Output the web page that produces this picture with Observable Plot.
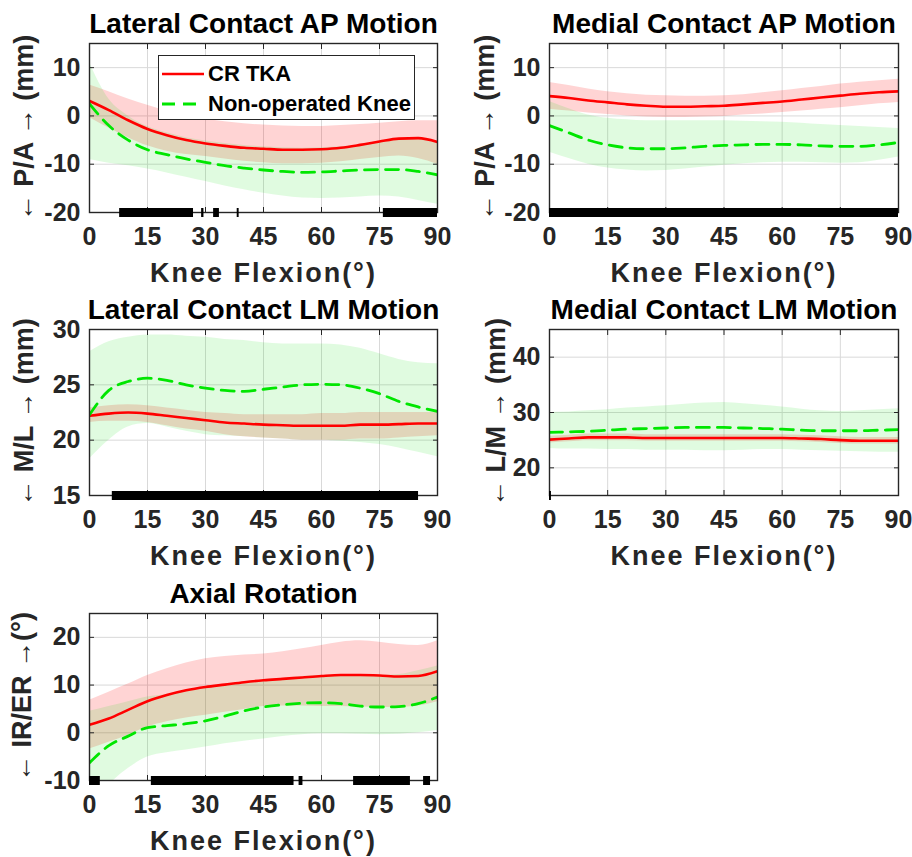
<!DOCTYPE html>
<html><head><meta charset="utf-8">
<script src="https://cdn.jsdelivr.net/npm/d3@7"></script>
<script src="https://cdn.jsdelivr.net/npm/@observablehq/plot@0.6"></script>
<style>
body{margin:0;background:#fff;}
#wrap{position:relative;width:912px;height:857px;font-family:"Liberation Sans",Arial,sans-serif;overflow:hidden;}
.panel{position:absolute;}
g[aria-description="xlabel"] text{letter-spacing:2px;}
#legend{position:absolute;left:158px;top:55px;width:257px;height:65px;border:1.4px solid #262626;background:#fff;box-sizing:border-box;}
#legend .row{position:absolute;left:0;height:26px;display:flex;align-items:center;font-weight:bold;font-size:22px;color:#000;white-space:nowrap;}
#legend svg{width:44px;height:10px;margin-right:2px;}
</style></head><body><div id="wrap"></div>
<script>
// ---------- shared ----------
const flex = [0,5,10,15,20,25,30,35,40,45,50,55,60,65,70,75,80,85,90];
const xTicks = [0,15,30,45,60,75,90];
const xLabel = "Knee Flexion(°)";
const seriesNames = ["CR TKA", "Non-operated Knee"];

// ---------- Lateral Contact AP Motion ----------
const latAP_title = "Lateral Contact AP Motion";
const latAP_ylabel = "← P/A → (mm)";
const latAP_yTicks = [-20,-10,0,10];
const latAP_yDomain = [-20,15];
const latAP_crMean = [3.1,1.2,-0.9,-2.7,-4.0,-5.0,-5.7,-6.2,-6.6,-6.8,-7.0,-7.0,-6.9,-6.6,-6.0,-5.3,-4.7,-4.6,-5.4];
const latAP_crHi   = [6.4,5.0,3.5,2.2,1.0,0.0,-0.7,-1.2,-1.6,-1.9,-2.1,-2.2,-2.2,-2.0,-1.8,-1.5,-1.2,-1.0,-1.0];
const latAP_crLo   = [-0.3,-2.5,-4.5,-6.2,-7.3,-8.0,-8.4,-8.9,-9.4,-9.7,-9.9,-9.9,-9.8,-9.5,-9.0,-8.6,-8.3,-8.8,-10.0];
const latAP_noMean = [2.5,-2.0,-5.0,-7.0,-8.0,-8.9,-9.6,-10.3,-10.8,-11.2,-11.5,-11.7,-11.6,-11.4,-11.2,-11.1,-11.1,-11.5,-12.2];
const latAP_noHi   = [11.0,3.5,0.0,-2.2,-3.5,-4.5,-5.2,-5.7,-6.1,-6.4,-6.6,-6.7,-6.6,-6.4,-6.0,-5.4,-4.9,-4.9,-5.6];
const latAP_noLo   = [-9.0,-9.8,-10.3,-11.0,-11.8,-12.7,-13.6,-14.5,-15.3,-16.0,-16.6,-17.0,-17.1,-17.0,-16.8,-16.6,-16.8,-17.5,-18.3];
const latAP_sigStart = [7.8,29.0,32.1,38.2,76.0];
const latAP_sigEnd   = [26.9,29.6,33.6,38.7,90.0];

// ---------- Medial Contact AP Motion ----------
const medAP_title = "Medial Contact AP Motion";
const medAP_ylabel = "← P/A → (mm)";
const medAP_yTicks = [-20,-10,0,10];
const medAP_yDomain = [-20,15];
const medAP_crMean = [4.1,3.7,3.2,2.8,2.4,2.1,1.9,1.9,2.0,2.1,2.4,2.7,3.0,3.4,3.8,4.2,4.6,4.9,5.1];
const medAP_crHi   = [6.9,6.3,5.6,5.0,4.6,4.3,4.2,4.1,4.1,4.2,4.4,4.8,5.2,5.7,6.1,6.6,7.0,7.3,7.6];
const medAP_crLo   = [1.4,1.0,0.6,0.3,0.0,-0.2,-0.3,-0.3,-0.2,-0.1,0.2,0.4,0.7,1.0,1.4,1.7,2.1,2.5,2.8];
const medAP_noMean = [-2.0,-3.5,-5.0,-6.0,-6.6,-6.8,-6.8,-6.6,-6.3,-6.1,-6.0,-5.9,-5.9,-6.0,-6.2,-6.3,-6.3,-6.0,-5.5];
const medAP_noHi   = [3.0,1.5,0.2,-0.5,-0.8,-1.0,-1.0,-1.0,-1.0,-1.0,-1.1,-1.2,-1.3,-1.5,-1.8,-2.0,-2.2,-2.4,-2.6];
const medAP_noLo   = [-7.5,-8.8,-10.0,-10.8,-11.2,-11.4,-11.3,-11.0,-10.6,-10.2,-9.9,-9.7,-9.6,-9.6,-9.7,-9.8,-9.7,-9.2,-8.5];
const medAP_sigStart = [0];
const medAP_sigEnd   = [90];

// ---------- Lateral Contact LM Motion ----------
const latLM_title = "Lateral Contact LM Motion";
const latLM_ylabel = "← M/L → (mm)";
const latLM_yTicks = [15,20,25,30];
const latLM_yDomain = [15,30];
const latLM_crMean = [22.2,22.4,22.5,22.4,22.2,22.0,21.8,21.6,21.5,21.4,21.35,21.3,21.3,21.3,21.4,21.4,21.45,21.5,21.5];
const latLM_crHi   = [22.9,23.1,23.2,23.1,22.9,22.7,22.5,22.4,22.3,22.3,22.3,22.3,22.4,22.4,22.5,22.5,22.5,22.5,22.5];
const latLM_crLo   = [21.6,21.7,21.7,21.6,21.3,21.0,20.8,20.5,20.3,20.2,20.1,20.0,20.0,20.0,20.1,20.1,20.2,20.3,20.4];
const latLM_noMean = [22.3,24.5,25.3,25.6,25.4,25.0,24.7,24.5,24.4,24.6,24.8,25.0,25.05,25.0,24.7,24.2,23.5,23.0,22.6];
const latLM_noHi   = [28.0,28.9,29.3,29.5,29.5,29.4,29.3,29.1,29.0,28.8,28.7,28.7,28.7,28.6,28.3,27.8,27.3,27.0,26.9];
const latLM_noLo   = [18.3,20.0,21.2,21.5,21.2,20.8,20.5,20.4,20.3,20.2,20.1,20.0,20.0,19.9,19.8,19.6,19.3,18.9,18.5];
const latLM_sigStart = [5.9];
const latLM_sigEnd   = [85.1];

// ---------- Medial Contact LM Motion ----------
const medLM_title = "Medial Contact LM Motion";
const medLM_ylabel = "← L/M → (mm)";
const medLM_yTicks = [20,30,40];
const medLM_yDomain = [15,45];
const medLM_crMean = [25.1,25.3,25.5,25.5,25.5,25.4,25.4,25.4,25.4,25.4,25.4,25.4,25.4,25.3,25.2,25.0,24.9,24.9,24.9];
const medLM_crHi   = [25.7,25.9,26.1,26.1,26.1,26.0,26.0,26.0,26.0,26.0,26.0,26.0,26.0,25.9,25.8,25.6,25.5,25.5,25.5];
const medLM_crLo   = [24.5,24.7,24.9,24.9,24.9,24.8,24.8,24.8,24.8,24.8,24.8,24.8,24.8,24.7,24.6,24.4,24.3,24.3,24.3];
const medLM_noMean = [26.4,26.5,26.6,26.8,27.0,27.1,27.2,27.3,27.3,27.3,27.2,27.1,27.0,26.8,26.7,26.7,26.7,26.8,26.9];
const medLM_noHi   = [30.0,30.1,30.3,30.5,30.8,31.0,31.2,31.5,31.7,31.8,31.6,31.3,31.0,30.6,30.3,30.2,30.3,30.5,30.7];
const medLM_noLo   = [23.5,23.4,23.4,23.3,23.3,23.2,23.2,23.2,23.1,23.1,23.2,23.3,23.3,23.2,23.1,23.0,22.9,22.8,22.8];
const medLM_sigStart = [0];
const medLM_sigEnd   = [0.5];

// ---------- Axial Rotation ----------
const axial_title = "Axial Rotation";
const axial_ylabel = "← IR/ER →(°)";
const axial_yTicks = [-10,0,10,20];
const axial_yDomain = [-10,25];
const axial_crMean = [1.7,3.0,4.8,6.6,7.9,8.9,9.6,10.1,10.6,11.0,11.3,11.6,11.9,12.1,12.1,12.0,11.8,11.9,12.9];
const axial_crHi   = [6.8,8.5,10.2,12.0,13.4,14.6,15.5,16.0,16.3,16.5,17.0,17.6,18.3,19.0,19.3,19.0,18.5,18.3,19.3];
const axial_crLo   = [-3.4,-2.0,-0.5,1.2,2.3,3.1,3.7,4.3,4.9,5.5,5.6,5.6,5.5,5.5,5.4,5.3,5.3,5.6,6.5];
const axial_noMean = [-6.3,-2.7,-0.7,1.1,1.5,1.9,2.5,3.5,4.6,5.4,5.9,6.2,6.3,6.1,5.6,5.4,5.5,6.1,7.5];
const axial_noHi   = [4.5,5.5,6.5,7.5,8.0,8.8,9.5,10.0,10.5,11.0,11.4,11.8,12.0,12.0,12.0,12.0,12.2,13.0,14.0];
const axial_noLo   = [-16.0,-11.0,-7.5,-5.1,-4.2,-3.6,-3.0,-2.3,-1.8,-1.3,-0.8,-0.4,-0.2,-0.2,-0.3,-0.4,-0.3,0.0,0.5];
const axial_sigStart = [0,16.0,54.2,68.3,86.4];
const axial_sigEnd   = [2.8,52.9,55.2,83.0,88.2];

// ---------- drawing ----------
const RED = "#ff0000", GREEN = "#00e600";
const CURVE = "monotone-x";
const FONT = "'Liberation Sans', Arial, sans-serif";

function panel(cfg) {
  const rows = flex.map((x, i) => ({
    x, crM: cfg.crMean[i], crHi: cfg.crHi[i], crLo: cfg.crLo[i],
    noM: cfg.noMean[i], noHi: cfg.noHi[i], noLo: cfg.noLo[i]
  }));
  const sig = cfg.sigStart.map((s, i) => ({s, e: cfg.sigEnd[i]}));
  const y0 = cfg.yDomain[0];
  const chart = Plot.plot({
    width: cfg.width, height: cfg.height,
    marginTop: cfg.mt, marginBottom: cfg.mb, marginLeft: cfg.ml, marginRight: cfg.mr,
    style: {fontFamily: FONT, color: "#262626", background: "transparent", overflow: "visible"},
    x: {domain: [0, 90]},
    y: {domain: cfg.yDomain},
    marks: [
      Plot.gridX({ticks: xTicks, stroke: "#d9d9d9", strokeOpacity: 1}),
      Plot.gridY({ticks: cfg.yTicks, stroke: "#d9d9d9", strokeOpacity: 1}),
      Plot.areaY(rows, {x: "x", y1: "crLo", y2: "crHi", fill: RED, fillOpacity: 0.17, curve: CURVE, clip: true}),
      Plot.areaY(rows, {x: "x", y1: "noLo", y2: "noHi", fill: "#00dd00", fillOpacity: 0.12, curve: CURVE, clip: true}),
      Plot.line(rows, {x: "x", y: "crM", stroke: RED, strokeWidth: 2.6, curve: CURVE, clip: true}),
      Plot.line(rows, {x: "x", y: "noM", stroke: GREEN, strokeWidth: 2.8, strokeDasharray: "13,8", curve: CURVE, clip: true}),
      Plot.frame({stroke: "#262626", strokeWidth: 1.4}),
      Plot.axisX({ticks: xTicks, anchor: "bottom", tickSize: 5, dy: -5, fill: "none", label: null, stroke: "#262626"}),
      Plot.axisX({ticks: xTicks, anchor: "top", tickSize: 5, dy: 5, fill: "none", label: null, stroke: "#262626"}),
      Plot.axisY({ticks: cfg.yTicks, anchor: "left", tickSize: 5, dx: 5, fill: "none", label: null, stroke: "#262626"}),
      Plot.axisY({ticks: cfg.yTicks, anchor: "right", tickSize: 5, dx: -5, fill: "none", label: null, stroke: "#262626"}),
      Plot.axisX({ticks: xTicks, anchor: "bottom", tickSize: 0, tickPadding: 15, fontSize: 25, fontWeight: "bold", label: null, tickFormat: d => String(d)}),
      Plot.axisY({ticks: cfg.yTicks, anchor: "left", tickSize: 0, tickPadding: 9, fontSize: 25, fontWeight: "bold", label: null, tickFormat: d => String(d)}),
      Plot.ruleY(sig, {y: () => y0, x1: "s", x2: "e", stroke: "#000", strokeWidth: 9}),
      Plot.text([cfg.title], {text: d => d, frameAnchor: "top", lineAnchor: "bottom", dy: -11, fontSize: 28, fontWeight: "bold", fill: "#000"}),
      Plot.text([xLabel], {text: d => d, frameAnchor: "bottom", lineAnchor: "top", dy: 50, fontSize: 27, fontWeight: "bold", fill: "#262626", ariaDescription: "xlabel"}),
      Plot.text([cfg.ylabel], {text: d => d, frameAnchor: "left", textAnchor: "middle", rotate: -90, dx: cfg.labelDx, fontSize: 27, fontWeight: "bold", fill: "#262626"})
    ]
  });
  const div = document.createElement("div");
  div.className = "panel";
  div.style.left = cfg.left + "px";
  div.style.top = cfg.top + "px";
  div.appendChild(chart);
  document.getElementById("wrap").appendChild(div);
}

const colL = {left: 0, width: 456, ml: 89, mr: 19};
const colR = {left: 456, width: 456, ml: 93, mr: 14};
const row1 = {top: 0, height: 286, mt: 43, mb: 74};
const row2 = {top: 286, height: 286, mt: 43, mb: 77};
const row3 = {top: 572, height: 285, mt: 41, mb: 77};

panel({...colL, ...row1, labelDx: -65, title: latAP_title, ylabel: latAP_ylabel, yTicks: latAP_yTicks, yDomain: latAP_yDomain,
  crMean: latAP_crMean, crHi: latAP_crHi, crLo: latAP_crLo, noMean: latAP_noMean, noHi: latAP_noHi, noLo: latAP_noLo,
  sigStart: latAP_sigStart, sigEnd: latAP_sigEnd});
panel({...colR, ...row1, labelDx: -64, title: medAP_title, ylabel: medAP_ylabel, yTicks: medAP_yTicks, yDomain: medAP_yDomain,
  crMean: medAP_crMean, crHi: medAP_crHi, crLo: medAP_crLo, noMean: medAP_noMean, noHi: medAP_noHi, noLo: medAP_noLo,
  sigStart: medAP_sigStart, sigEnd: medAP_sigEnd});
panel({...colL, ...row2, labelDx: -65, title: latLM_title, ylabel: latLM_ylabel, yTicks: latLM_yTicks, yDomain: latLM_yDomain,
  crMean: latLM_crMean, crHi: latLM_crHi, crLo: latLM_crLo, noMean: latLM_noMean, noHi: latLM_noHi, noLo: latLM_noLo,
  sigStart: latLM_sigStart, sigEnd: latLM_sigEnd});
panel({...colR, ...row2, labelDx: -53, title: medLM_title, ylabel: medLM_ylabel, yTicks: medLM_yTicks, yDomain: medLM_yDomain,
  crMean: medLM_crMean, crHi: medLM_crHi, crLo: medLM_crLo, noMean: medLM_noMean, noHi: medLM_noHi, noLo: medLM_noLo,
  sigStart: medLM_sigStart, sigEnd: medLM_sigEnd});
panel({...colL, ...row3, labelDx: -67, title: axial_title, ylabel: axial_ylabel, yTicks: axial_yTicks, yDomain: axial_yDomain,
  crMean: axial_crMean, crHi: axial_crHi, crLo: axial_crLo, noMean: axial_noMean, noHi: axial_noHi, noLo: axial_noLo,
  sigStart: axial_sigStart, sigEnd: axial_sigEnd});

// ---------- legend (in the first panel) ----------
const legend = document.createElement("div");
legend.id = "legend";
const swatches = [
  `<line x1="0" x2="42" y1="5" y2="5" stroke="${RED}" stroke-width="2.6"/>`,
  `<line x1="0" x2="42" y1="5" y2="5" stroke="${GREEN}" stroke-width="2.8" stroke-dasharray="13,8"/>`
];
seriesNames.forEach((name, i) => {
  const row = document.createElement("div");
  row.className = "row";
  row.style.top = (5 + i * 30) + "px";
  row.style.left = "3px";
  row.innerHTML = `<svg viewBox="0 0 44 10">${swatches[i]}</svg><span>${name}</span>`;
  legend.appendChild(row);
});
document.getElementById("wrap").appendChild(legend);
</script>
</body></html>
